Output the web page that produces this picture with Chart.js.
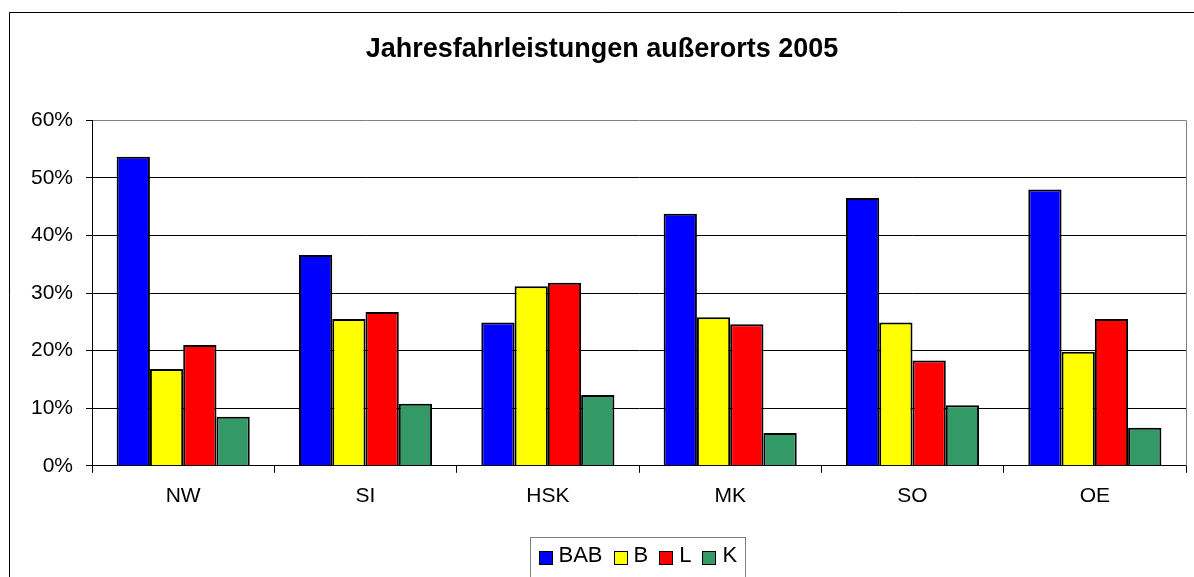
<!DOCTYPE html>
<html>
<head>
<meta charset="utf-8">
<title>Jahresfahrleistungen außerorts 2005</title>
<script src="https://cdn.jsdelivr.net/npm/chart.js@4/dist/chart.umd.min.js"></script>
<style>
  html, body { margin: 0; padding: 0; background: #fff; }
  #wrap { width: 1194px; height: 577px; position: relative; }
</style>
</head>
<body>
<div id="wrap"><canvas id="c" width="1194" height="577"></canvas></div>
<script>
// Regions (Kreise) and their share of annual out-of-town mileage by road class
const categories = ['NW', 'SI', 'HSK', 'MK', 'SO', 'OE'];
const seriesNames = ['BAB', 'B', 'L', 'K'];
const babValues = [53.7, 36.6, 24.9, 43.8, 46.5, 48.0];
const bValues   = [16.8, 25.5, 31.2, 25.8, 24.9, 19.8];
const lValues   = [21.0, 26.7, 31.8, 24.6, 18.3, 25.5];
const kValues   = [8.5, 10.8, 12.3, 5.7, 10.5, 6.6];
const yTicks = [0, 10, 20, 30, 40, 50, 60];

const seriesColors = ['#0000FF', '#FFFF00', '#FF0000', '#339966'];
const FONT = "'Liberation Sans', Arial, Helvetica, sans-serif";

const seriesValues = [babValues, bValues, lValues, kValues];
const datasets = seriesNames.map((name, i) => ({
  label: name,
  data: seriesValues[i],
  backgroundColor: seriesColors[i],
  borderColor: '#000000',
  borderWidth: 2,
  borderSkipped: 'bottom',
  categoryPercentage: 0.73,
  barPercentage: 1.0
}));

// Outer frame, gray right edge of the plot area and the boxed legend
const framePlugin = {
  id: 'frame',
  afterDraw(chart) {
    const ctx = chart.ctx;
    const a = chart.chartArea;
    ctx.save();
    // chart frame (left and top edges)
    ctx.strokeStyle = '#000000';
    ctx.lineWidth = 1;
    ctx.beginPath();
    ctx.moveTo(9.5, chart.height + 5);
    ctx.lineTo(9.5, 12.5);
    ctx.lineTo(chart.width + 5, 12.5);
    ctx.stroke();

    // plot area right edge
    ctx.strokeStyle = '#808080';
    ctx.beginPath();
    ctx.moveTo(Math.round(a.right) + 0.5, a.top);
    ctx.lineTo(Math.round(a.right) + 0.5, a.bottom);
    ctx.stroke();

    // legend
    const fontSize = 22;
    const box = 13, gapText = 7, gapItem = 11, padX = 8;
    ctx.font = fontSize + 'px ' + FONT;
    const items = chart.data.datasets.map(ds => ({
      label: ds.label, color: ds.backgroundColor, w: ctx.measureText(ds.label).width
    }));
    let total = padX * 2;
    items.forEach((it, i) => { total += box + gapText + it.w + (i < items.length - 1 ? gapItem : 0); });
    const cx = (a.left + a.right) / 2;
    const left = Math.round(cx - total / 2) - 1.5;
    const top = 537.5;
    ctx.strokeStyle = '#808080';
    ctx.strokeRect(left, top, Math.round(total), 60);
    let x = left + padX;
    const midY = 557;
    ctx.textBaseline = 'middle';
    ctx.textAlign = 'left';
    items.forEach(it => {
      const bx = Math.round(x) + 0.5, by = Math.round(midY - box / 2) + 0.5;
      ctx.fillStyle = it.color;
      ctx.fillRect(bx, by, box, box);
      ctx.strokeStyle = '#000000';
      ctx.strokeRect(bx, by, box, box);
      ctx.fillStyle = '#000000';
      ctx.fillText(it.label, x + box + gapText, midY - 1);
      x += box + gapText + it.w + gapItem;
    });
    ctx.restore();
  }
};

new Chart(document.getElementById('c'), {
  type: 'bar',
  data: { labels: categories, datasets },
  options: {
    responsive: false,
    animation: false,
    devicePixelRatio: 1,
    layout: { padding: { left: 18, right: 8, top: 13, bottom: 57 } },
    plugins: {
      legend: { display: false },
      tooltip: { enabled: false },
      title: {
        display: true,
        text: 'Jahresfahrleistungen außerorts 2005',
        color: '#000000',
        font: { family: FONT, size: 27, weight: 'bold', lineHeight: 1.2 },
        padding: { top: 20, bottom: 55 }
      }
    },
    scales: {
      x: {
        offset: true,
        grid: {
          offset: true,
          drawOnChartArea: false,
          drawTicks: true,
          tickLength: 7,
          color: '#000000',
          tickColor: '#000000'
        },
        border: { display: true, color: '#000000', width: 1 },
        ticks: {
          color: '#000000',
          font: { family: FONT, size: 21 },
          padding: 11,
          maxRotation: 0
        }
      },
      y: {
        min: 0,
        max: 60,
        afterBuildTicks(scale) { scale.ticks = yTicks.map(v => ({ value: v })); },
        grid: {
          color: ctx => (ctx.tick && ctx.tick.value === 60 ? '#808080' : '#000000'),
          tickColor: '#000000',
          tickLength: 6,
          lineWidth: 1
        },
        border: { display: true, color: '#000000', width: 1 },
        ticks: {
          color: '#000000',
          font: { family: FONT, size: 21 },
          padding: 13,
          callback: v => v + '%'
        }
      }
    }
  },
  plugins: [framePlugin]
});
</script>
</body>
</html>
